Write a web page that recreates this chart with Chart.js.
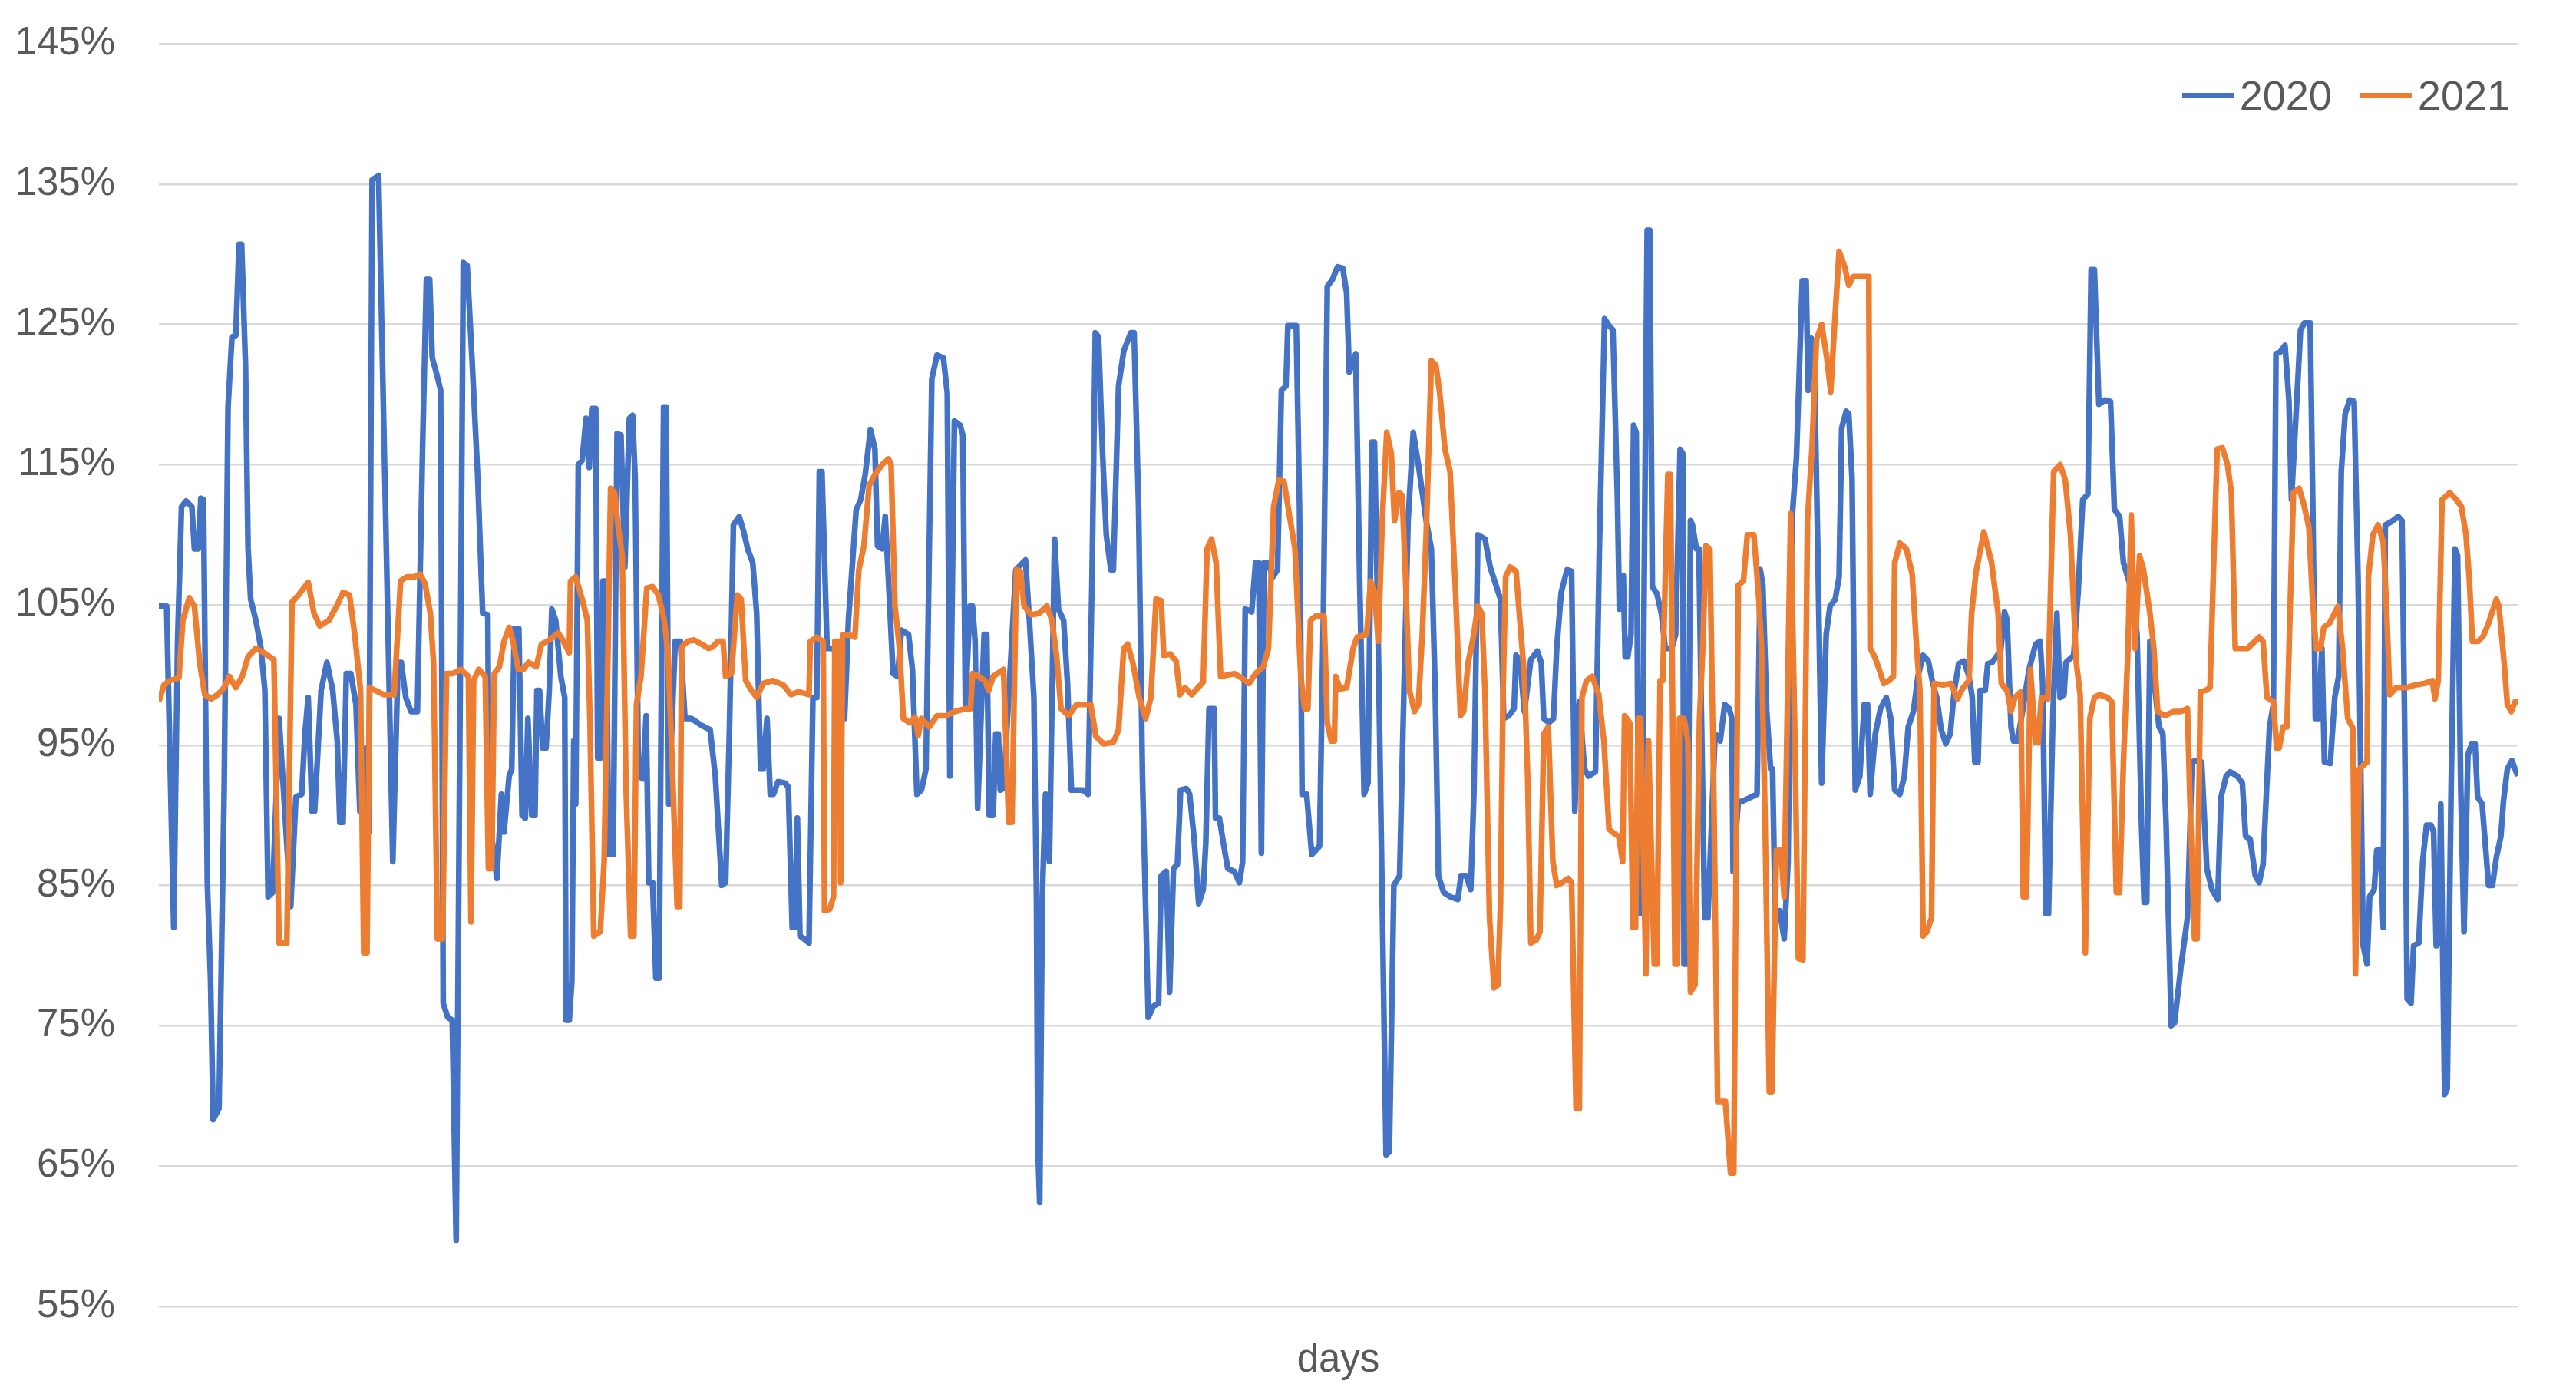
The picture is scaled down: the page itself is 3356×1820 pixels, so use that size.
<!DOCTYPE html>
<html>
<head>
<meta charset="utf-8">
<title>2020 vs 2021</title>
<script src="https://cdn.jsdelivr.net/npm/chart.js@4.4.1/dist/chart.umd.min.js"></script>
<style>
  html, body { margin: 0; padding: 0; background: #fff; }
  #wrap { position: relative; width: 3356px; height: 1820px; }
  #chart { display: block; }
  #legend {
    position: absolute; top: 93px; right: 86px;
    display: flex; align-items: center;
    font-family: 'Liberation Sans', Arial, sans-serif; font-size: 54px; color: #595959;
  }
  .legend-item { display: flex; align-items: center; margin-left: 37px; }
  .legend-line { width: 67px; height: 7px; margin-right: 8px; }
</style>
</head>
<body>
<div id="wrap">
  <canvas id="chart" width="3356" height="1820"></canvas>
  <div id="legend"></div>
</div>
<script>
// [day, ratio %], one entry per visible vertex
const points2020 = [
  [0,104.9],[1.2,104.9],[2.3,82.0],[2.9,102.4],[3.5,112.0],[4.2,112.4],[5.1,112.0],[5.5,109.0],[6.1,109.0],[6.5,112.6],
  [6.9,112.5],[7.5,85.2],[8.0,78.2],[8.4,68.3],[9.3,69.1],[10.1,91.8],[10.7,119.1],[11.3,124.1],[11.9,124.2],[12.4,130.7],
  [12.8,130.7],[13.4,122.1],[13.8,109.0],[14.2,105.4],[15.0,103.9],[15.8,101.9],[16.4,98.9],[16.9,84.2],[17.6,84.5],[18.6,96.9],
  [20.4,83.5],[21.2,91.3],[22.1,91.5],[22.6,95.8],[23.1,98.4],[23.7,90.3],[24.1,90.3],[25.1,98.9],[26.0,100.9],[26.9,98.9],
  [27.6,95.3],[28.0,89.5],[28.5,89.5],[29.0,100.1],[29.7,100.1],[30.5,97.9],[31.1,90.3],[32.1,94.8],[32.5,88.8],[33.0,135.3],
  [34.0,135.6],[36.2,86.7],[37.0,100.9],[37.5,100.9],[38.2,98.4],[39.0,97.4],[40.0,97.4],[40.8,116.1],[41.4,128.2],[41.9,128.2],
  [42.3,122.6],[42.9,121.6],[43.6,120.3],[44.0,76.6],[44.7,75.6],[45.4,75.4],[46.0,59.7],[47.1,129.4],[47.7,129.2],[48.5,122.1],
  [49.3,114.5],[50.1,104.4],[50.9,104.3],[51.1,90.0],[52.3,85.5],[53.0,91.5],[53.4,88.8],[54.2,92.8],[54.6,93.3],[55.0,103.3],
  [55.7,103.3],[56.2,90.0],[56.7,89.8],[57.1,96.9],[57.7,90.0],[58.2,90.0],[58.5,98.9],[58.9,98.9],[59.4,94.8],[59.9,94.8],
  [60.4,98.9],[60.8,104.7],[61.4,103.9],[62.2,99.9],[62.8,98.4],[63.0,75.4],[63.5,75.4],[63.9,78.2],[64.2,95.3],[64.5,90.8],
  [64.9,115.0],[65.5,115.3],[66.1,118.3],[66.6,114.8],[67.0,119.0],[67.6,119.0],[67.9,94.1],[68.4,94.1],[68.7,106.7],[69.2,106.7],
  [69.6,87.2],[70.3,87.2],[70.9,117.2],[71.5,117.1],[72.1,107.7],[72.8,118.3],[73.3,118.5],[73.7,114.0],[74.2,92.8],[74.9,92.6],
  [75.4,97.1],[75.8,85.2],[76.4,85.2],[76.9,78.4],[77.4,78.4],[78.1,119.1],[78.5,119.1],[78.9,90.8],[79.9,102.4],[80.7,102.4],
  [81.4,96.9],[82.4,96.9],[84.0,96.4],[85.3,96.1],[86.1,92.8],[87.1,85.0],[87.7,85.2],[88.3,96.3],[88.9,110.7],[89.8,111.3],
  [90.5,110.2],[91.1,109.0],[91.9,108.0],[92.5,104.4],[93.1,93.3],[93.5,93.3],[94.1,96.9],[94.6,91.5],[95.1,91.5],[95.8,92.4],
  [96.9,92.3],[97.4,92.0],[98.0,82.0],[98.4,82.0],[98.8,89.8],[99.2,81.4],[99.8,81.2],[100.6,80.9],[101.2,98.4],[101.8,98.4],
  [102.2,114.5],[102.6,114.5],[103.4,101.9],[104.5,101.9],[106.1,96.9],[106.7,103.9],[107.9,111.8],[108.6,112.5],[109.3,114.3],[110.1,117.5],
  [110.8,116.1],[111.2,109.2],[111.9,109.0],[112.4,111.3],[113.1,104.9],[113.6,100.1],[114.3,99.9],[114.9,103.2],[116.0,102.9],[116.6,100.4],
  [117.3,91.5],[118.0,91.8],[118.7,93.3],[119.6,121.1],[120.4,122.8],[121.4,122.6],[122.0,120.1],[122.4,92.8],[123.1,118.1],[124.0,117.8],
  [124.4,117.1],[124.8,97.9],[125.5,104.9],[125.9,104.9],[126.3,102.4],[126.7,90.5],[127.7,102.9],[128.1,102.9],[128.5,90.0],[129.1,90.0],
  [129.5,95.8],[129.9,95.8],[130.2,91.8],[130.7,91.9],[132.6,107.5],[134.1,108.2],[134.7,103.9],[135.4,98.4],[135.8,84.2],[136.0,66.5],
  [136.3,62.4],[136.7,84.2],[137.2,91.5],[137.8,86.7],[138.6,109.7],[139.2,104.7],[140.0,103.9],[140.6,99.4],[141.2,91.8],[143.0,91.8],
  [143.8,91.5],[144.4,107.0],[144.9,124.4],[145.4,124.1],[146.0,116.1],[146.6,110.0],[147.3,107.5],[147.7,107.5],[148.5,120.6],[149.3,123.1],
  [150.4,124.4],[150.9,124.4],[151.6,112.0],[152.2,92.8],[153.1,75.6],[153.9,76.4],[154.7,76.6],[155.1,85.7],[155.9,86.0],[156.4,77.4],
  [157.0,86.2],[157.6,86.5],[158.1,91.8],[159.0,91.9],[159.5,91.5],[160.2,88.3],[160.9,83.7],[161.6,84.7],[162.0,88.0],[162.5,97.6],
  [163.3,97.6],[163.5,89.8],[164.1,89.8],[164.8,87.8],[165.4,86.2],[166.4,86.0],[167.2,85.2],[167.7,86.7],[168.1,104.7],[169.1,104.5],
  [169.7,108.0],[170.2,108.0],[170.6,87.3],[171.0,108.0],[171.6,108.0],[172.4,107.0],[173.1,107.5],[173.7,120.3],[174.4,120.6],[174.7,124.9],
  [176.0,124.9],[176.5,112.0],[176.9,91.5],[177.6,91.5],[178.4,87.2],[179.0,87.5],[179.6,87.8],[180.2,104.4],[180.8,127.7],[181.6,128.2],
  [182.4,129.1],[183.2,129.0],[183.8,127.2],[184.2,121.6],[185.2,122.9],[185.8,107.0],[186.5,91.5],[187.1,92.3],[187.7,116.6],[188.1,116.6],
  [188.7,101.9],[189.9,65.8],[190.4,66.0],[191.1,85.0],[192.0,85.7],[192.5,95.8],[193.3,111.0],[194.1,117.3],[194.9,115.0],[196.1,111.0],
  [196.9,109.0],[197.5,98.9],[198.0,85.7],[198.8,84.5],[199.8,84.2],[201.0,84.0],[201.5,85.7],[202.3,85.7],[203.0,84.7],[203.5,91.8],
  [204.1,110.0],[205.2,109.7],[206.0,107.7],[206.9,106.4],[207.6,105.4],[208.1,96.9],[208.9,97.1],[209.7,97.6],[210.0,101.4],[210.6,101.1],
  [211.3,97.4],[212.3,101.1],[213.3,101.7],[213.9,100.9],[214.3,96.9],[215.1,96.6],[215.8,96.9],[216.3,101.9],[217.0,105.9],[217.9,107.5],
  [218.6,107.4],[219.1,90.3],[219.8,98.1],[220.6,93.3],[221.2,92.8],[222.3,93.1],[222.9,109.0],[223.7,125.4],[224.4,124.9],[225.0,124.6],
  [225.7,112.5],[226.0,104.7],[226.6,107.1],[226.9,101.3],[227.3,101.3],[227.8,102.9],[228.2,117.8],[228.6,117.3],[229.0,83.0],[229.4,83.0],
  [230.3,131.7],[230.7,131.7],[231.1,106.3],[231.8,105.8],[232.5,104.4],[233.1,101.9],[234.1,101.9],[234.7,102.9],[235.4,116.1],[235.8,115.8],
  [236.0,79.4],[236.5,79.4],[237.0,111.0],[237.3,110.7],[237.9,109.0],[238.3,109.0],[238.7,96.9],[239.2,82.7],[239.7,82.7],[240.8,95.8],
  [241.6,95.3],[242.3,97.9],[243.0,97.6],[243.4,96.9],[243.6,86.0],[244.4,91.0],[245.0,91.0],[246.4,91.3],[247.3,91.5],[247.8,107.5],
  [248.2,106.4],[248.8,97.4],[249.4,93.3],[249.7,93.3],[250.1,83.2],[250.8,83.2],[251.5,81.2],[252.1,86.7],[252.7,111.0],[253.4,115.5],
  [254.3,128.1],[254.9,128.1],[255.2,120.3],[255.7,124.0],[256.2,121.1],[256.7,109.0],[257.3,92.3],[258.0,102.9],[258.6,104.9],[259.4,105.4],
  [260.0,107.0],[260.4,117.6],[261.1,118.8],[261.5,118.6],[262.0,114.0],[262.5,91.8],[263.2,92.8],[263.9,97.9],[264.4,97.9],[264.8,91.5],
  [265.6,95.8],[266.4,97.6],[267.3,98.4],[268.0,96.9],[268.6,91.8],[269.4,91.5],[270.1,92.8],[270.7,96.3],[271.5,97.4],[272.2,99.9],
  [273.0,101.4],[273.8,101.0],[274.5,99.4],[275.1,98.4],[275.8,96.1],[276.5,95.1],[277.2,95.8],[277.8,98.8],[278.5,100.8],[279.3,101.0],
  [280.1,99.9],[280.6,98.4],[281.0,93.8],[281.5,93.8],[281.8,98.9],[282.6,98.9],[283.0,100.8],[283.7,100.9],[284.3,101.3],[285.0,101.7],
  [285.6,104.5],[286.0,103.9],[286.6,96.3],[287.0,95.3],[287.6,95.3],[288.2,96.9],[289.4,100.4],[290.4,102.2],[291.1,102.4],[291.5,99.4],
  [292.0,83.0],[292.4,83.0],[293.1,97.4],[293.7,104.4],[294.2,98.4],[294.8,98.6],[295.1,100.9],[296.3,101.4],[297.0,106.0],[297.7,112.5],
  [298.5,112.9],[299.0,128.9],[299.5,128.9],[300.2,119.3],[301.1,119.6],[302.0,119.5],[302.6,111.8],[303.4,111.3],[304.0,108.0],[305.3,106.0],
  [306.1,102.9],[306.8,89.3],[307.2,83.8],[307.6,83.8],[308.1,102.4],[309.5,96.3],[310.1,95.8],[310.6,89.3],[311.4,75.0],[311.9,75.2],
  [312.9,79.2],[313.9,82.7],[314.6,93.8],[315.2,93.9],[316.1,93.8],[316.9,86.2],[317.7,84.7],[318.6,84.0],[319.1,91.3],[319.9,92.8],
  [320.5,93.1],[321.6,92.8],[322.4,92.3],[322.9,88.5],[323.6,88.3],[324.4,85.7],[325.0,85.2],[325.6,86.5],[326.6,96.3],[327.2,97.9],
  [327.6,122.9],[328.2,123.0],[329.0,123.5],[329.6,119.6],[330.0,112.5],[331.4,124.6],[332.0,125.1],[332.9,125.1],[333.3,112.0],[333.7,96.9],
  [334.2,96.9],[334.7,101.9],[335.1,93.8],[336.0,93.7],[336.7,98.4],[337.3,99.9],[337.7,114.5],[338.3,118.6],[339.0,119.6],[339.7,119.5],
  [340.3,107.0],[340.7,93.8],[341.1,80.7],[341.7,79.4],[342.1,84.2],[342.8,84.7],[343.2,87.5],[343.8,87.5],[344.2,82.0],[344.5,110.7],
  [345.4,110.9],[346.5,111.3],[347.1,111.0],[347.5,96.9],[347.9,76.9],[348.5,76.6],[348.9,80.7],[349.7,80.9],[350.3,86.7],[350.9,89.3],
  [351.6,89.3],[352.0,88.8],[352.4,80.7],[352.8,80.9],[353.1,90.8],[353.7,70.1],[354.1,70.5],[354.7,91.8],[355.3,109.0],[355.7,108.5],
  [356.2,91.8],[356.7,81.7],[357.3,94.3],[357.9,95.1],[358.4,95.1],[358.8,91.3],[359.5,90.8],[360.5,85.0],[361.1,85.0],[361.7,87.0],
  [362.4,88.5],[362.8,91.0],[363.4,93.3],[364.1,93.9],[364.6,93.3],[365.0,92.8]
];

const points2021 = [
  [0,98.1],[0.8,99.3],[1.7,99.6],[3.1,99.8],[3.7,103.9],[4.7,105.5],[5.5,104.9],[6.3,100.9],[7.1,98.6],[8.1,98.3],
  [9.1,98.6],[10.1,99.1],[10.9,99.9],[11.9,99.1],[12.9,99.9],[13.8,101.3],[15.0,101.9],[16.2,101.6],[17.8,101.1],[18.6,80.9],
  [19.8,80.9],[20.6,105.2],[21.6,105.7],[23.1,106.6],[24.0,104.4],[24.9,103.5],[26.3,103.9],[27.5,104.9],[28.5,105.9],[29.5,105.7],
  [30.3,102.9],[31.2,98.9],[31.7,80.2],[32.2,80.2],[32.6,99.1],[34.8,98.6],[36.4,98.6],[37.4,106.7],[38.4,107.0],[39.6,107.0],
  [40.4,107.2],[41.2,106.5],[42.0,104.4],[42.5,100.9],[43.1,81.2],[43.9,81.2],[44.5,100.1],[45.5,100.1],[46.7,100.4],[47.9,99.9],
  [48.3,82.4],[48.7,99.6],[49.5,100.4],[50.5,99.9],[51.0,86.2],[51.5,86.2],[51.9,100.1],[52.7,100.6],[53.4,102.4],[54.2,103.4],
  [54.8,102.4],[55.6,100.4],[56.4,100.4],[57.2,100.9],[58.4,100.6],[59.2,102.2],[60.4,102.5],[61.8,103.0],[62.6,102.4],[63.5,101.6],
  [63.7,106.7],[64.5,107.0],[65.5,105.4],[66.3,103.9],[66.7,96.9],[67.3,81.4],[68.3,81.7],[68.9,86.7],[69.5,101.9],[69.9,113.3],
  [70.5,113.0],[71.1,110.5],[71.7,108.5],[72.3,91.8],[73.0,81.4],[73.5,81.4],[73.9,97.9],[74.6,99.9],[75.5,106.2],[76.4,106.3],
  [77.3,105.7],[78.2,103.9],[78.8,101.4],[79.5,92.8],[80.2,83.5],[80.6,83.5],[80.9,102.0],[81.8,102.4],[82.8,102.5],[84.0,102.2],
  [85.0,101.9],[85.7,102.0],[86.5,102.4],[87.3,102.4],[87.7,99.9],[88.6,100.1],[89.5,105.7],[90.1,105.4],[90.8,99.6],[91.7,98.9],
  [92.5,98.4],[93.5,99.4],[95.0,99.6],[96.6,99.3],[97.8,98.6],[99.0,98.8],[100.6,98.6],[100.8,102.4],[101.8,102.7],[102.8,102.4],
  [103.0,83.2],[103.8,83.3],[104.4,84.2],[104.6,102.4],[105.3,102.4],[105.5,85.2],[105.8,102.9],[107.3,102.8],[107.7,102.7],[108.3,107.5],
  [109.1,109.2],[109.9,113.5],[110.8,114.3],[111.9,115.0],[112.9,115.4],[113.3,115.0],[113.9,104.9],[114.6,101.9],[115.2,96.9],[116.2,96.6],
  [117.0,97.0],[117.5,95.7],[118.0,96.9],[119.2,96.3],[120.4,97.1],[121.8,97.1],[123.2,97.4],[124.8,97.6],[125.6,97.6],[125.9,100.1],
  [126.9,99.9],[127.8,99.6],[128.4,98.9],[129.1,99.9],[130.7,100.4],[131.5,89.5],[132.0,89.5],[132.7,107.5],[133.3,107.4],[133.9,104.9],
  [135.0,104.3],[136.2,104.4],[137.4,104.9],[138.2,103.9],[138.9,101.4],[139.6,97.6],[140.8,97.1],[142.0,97.9],[144.2,97.9],[145.0,95.6],
  [146.2,95.1],[147.7,95.2],[148.5,96.1],[149.3,101.9],[149.9,102.2],[150.7,100.9],[151.7,98.4],[152.7,96.9],[153.5,98.4],[154.3,105.4],
  [155.1,105.3],[155.5,101.4],[156.5,101.5],[157.4,101.0],[158.0,98.6],[158.8,99.1],[159.8,98.6],[160.8,99.1],[161.6,99.5],[162.2,109.0],
  [162.9,109.7],[163.6,108.0],[164.3,99.9],[165.4,100.0],[166.4,100.1],[167.5,99.8],[168.7,99.4],[169.7,100.1],[170.9,100.6],[171.7,101.9],
  [172.5,112.0],[173.3,113.9],[174.1,113.8],[174.9,111.5],[175.8,109.0],[176.7,99.9],[177.3,97.6],[177.8,97.6],[178.2,103.9],[179.0,104.2],
  [180.3,104.2],[180.8,96.6],[181.4,95.3],[181.9,95.3],[182.1,99.9],[182.8,99.0],[183.8,99.1],[184.8,101.9],[185.4,102.7],[186.9,102.9],
  [187.5,106.7],[188.1,105.9],[188.7,102.4],[189.3,111.0],[190.0,117.3],[190.7,115.8],[191.2,111.0],[191.9,113.0],[192.4,112.8],[192.9,107.0],
  [193.5,98.9],[194.3,97.4],[194.9,97.9],[195.5,102.9],[196.1,110.0],[196.9,122.4],[197.6,122.1],[198.2,120.1],[199.0,116.1],[199.8,114.5],
  [200.6,106.4],[201.4,97.1],[201.9,97.4],[202.6,100.9],[203.4,102.7],[204.1,104.9],[204.7,104.4],[205.2,98.9],[205.9,82.7],[206.6,77.7],
  [207.2,77.9],[207.6,83.7],[208.0,98.9],[208.4,107.0],[209.1,107.7],[210.0,107.4],[210.6,103.9],[211.3,99.9],[211.8,92.8],[212.3,80.9],
  [213.1,81.1],[213.7,81.7],[214.3,95.8],[215.0,96.3],[215.7,86.7],[216.3,85.0],[217.1,85.2],[218.1,85.5],[218.6,85.2],[219.3,69.1],
  [219.8,69.1],[220.2,98.4],[220.9,99.6],[221.8,99.9],[222.8,98.6],[223.6,95.3],[224.4,89.0],[225.2,88.7],[225.9,88.5],[226.5,86.7],
  [226.8,97.1],[227.6,96.6],[228.1,82.0],[228.5,82.0],[228.9,96.9],[229.3,96.9],[230.1,78.7],[230.5,95.3],[231.4,79.4],[231.8,79.4],
  [232.3,99.6],[232.7,99.6],[233.5,114.3],[233.9,114.3],[234.6,79.4],[235.0,79.4],[235.3,96.9],[236.0,96.9],[236.6,95.3],[237.0,77.4],
  [237.7,77.9],[238.4,96.9],[238.9,101.9],[239.4,109.2],[240.0,109.0],[240.6,91.8],[241.2,69.6],[242.4,69.6],[243.2,64.5],[243.7,64.5],
  [244.4,106.4],[245.2,106.7],[245.8,110.0],[246.8,110.0],[247.5,105.9],[248.0,101.9],[248.5,90.8],[249.2,70.3],[249.6,70.3],[250.3,87.5],
  [251.0,87.5],[251.5,84.2],[252.5,111.5],[253.1,96.9],[253.7,79.8],[254.4,79.7],[255.1,111.0],[255.8,116.1],[256.5,123.9],[257.3,125.0],
  [258.1,122.6],[258.7,120.2],[259.3,125.0],[260.0,130.2],[260.8,129.2],[261.5,127.8],[262.2,128.4],[263.4,128.4],[264.6,128.4],[264.8,101.9],
  [265.5,101.3],[266.2,100.4],[266.9,99.4],[267.7,99.6],[268.4,99.9],[268.6,108.0],[269.4,109.4],[270.4,109.0],[271.3,107.2],[272.0,101.9],
  [272.5,98.9],[273.0,81.4],[273.6,81.7],[274.3,82.7],[274.7,99.4],[276.1,99.3],[277.3,99.4],[278.3,98.3],[279.2,99.1],[280.1,99.6],
  [280.5,104.4],[281.2,107.4],[282.4,110.2],[283.6,108.0],[284.6,104.4],[285.1,99.4],[285.6,99.1],[286.0,98.9],[286.6,97.4],[287.2,98.4],
  [288.1,98.8],[288.5,84.2],[289.0,84.2],[289.6,100.4],[290.4,95.2],[290.8,95.2],[291.3,98.4],[292.3,98.3],[293.2,114.5],[294.2,115.0],
  [295.0,113.9],[295.8,110.0],[296.7,100.9],[297.3,98.6],[298.1,80.2],[298.8,96.9],[299.5,98.4],[300.3,98.6],[301.5,98.4],[302.2,98.1],
  [302.9,84.5],[303.4,84.5],[304.0,93.8],[304.7,101.9],[305.2,111.4],[305.8,101.9],[306.5,108.5],[307.1,107.5],[308.1,104.4],[308.7,101.9],
  [309.3,97.4],[310.4,97.1],[311.8,97.4],[312.9,97.4],[313.9,97.6],[314.3,91.0],[315.0,81.2],[315.4,81.2],[315.9,98.8],[316.7,98.9],
  [317.4,99.1],[317.9,107.0],[318.5,116.1],[319.3,116.2],[320.1,115.0],[320.7,113.0],[321.3,101.9],[323.2,101.9],[325.0,102.7],[325.6,102.4],
  [326.2,98.4],[327.2,98.1],[327.7,94.8],[328.1,94.8],[328.7,96.3],[329.3,96.3],[329.8,104.9],[330.3,113.0],[331.2,113.3],[332.0,112.0],
  [332.7,110.5],[333.2,105.9],[333.8,101.9],[334.5,101.9],[335.0,103.4],[335.9,103.7],[337.2,104.9],[337.9,101.9],[338.7,96.9],[339.5,96.2],
  [339.9,78.7],[340.5,93.3],[341.7,93.8],[341.9,107.0],[342.6,110.0],[343.4,110.7],[344.2,109.5],[344.7,104.9],[345.2,98.6],[346.2,99.1],
  [347.8,99.1],[349.2,99.3],[350.6,99.4],[351.8,99.6],[352.2,98.3],[352.7,99.6],[353.3,112.5],[354.5,113.0],[355.5,112.5],[356.3,112.0],
  [357.0,110.0],[357.5,107.0],[358.0,102.4],[358.9,102.4],[359.7,102.8],[360.5,103.7],[361.7,105.4],[362.1,104.9],[362.9,100.9],[363.4,97.9],
  [364.0,97.4],[364.6,98.1],[365.0,98.1]
];

const seriesLabels = ['2020', '2021'];
const seriesColors = ['#4472C4', '#ED7D31'];
const yTicks = [55, 65, 75, 85, 95, 105, 115, 125, 135, 145];

const FONT = "'Liberation Sans', Arial, sans-serif";
const TEXT_COLOR = '#595959';

function toXY(points) {
  return points.map(([day, pct]) => ({ x: day, y: pct }));
}

function renderLegend(chart) {
  const container = document.getElementById('legend');
  container.innerHTML = '';
  chart.data.datasets.forEach((ds) => {
    const item = document.createElement('div');
    item.className = 'legend-item';
    const line = document.createElement('span');
    line.className = 'legend-line';
    line.style.background = ds.borderColor;
    const label = document.createElement('span');
    label.textContent = ds.label;
    item.appendChild(line);
    item.appendChild(label);
    container.appendChild(item);
  });
}

const ctx = document.getElementById('chart').getContext('2d');
const chart = new Chart(ctx, {
  type: 'line',
  data: {
    datasets: [
      {
        label: seriesLabels[0],
        data: toXY(points2020),
        borderColor: seriesColors[0],
        borderWidth: 7.5,
        pointRadius: 0,
        tension: 0,
        borderJoinStyle: 'round',
        order: 1,
      },
      {
        label: seriesLabels[1],
        data: toXY(points2021),
        borderColor: seriesColors[1],
        borderWidth: 7.5,
        pointRadius: 0,
        tension: 0,
        borderJoinStyle: 'round',
        order: 0,
      },
    ],
  },
  options: {
    responsive: false,
    animation: false,
    devicePixelRatio: 1,
    layout: { padding: { top: 57, right: 76, left: 0, bottom: 0 } },
    plugins: {
      legend: { display: false },
      tooltip: { enabled: false },
    },
    scales: {
      x: {
        type: 'linear',
        min: 0,
        max: 365,
        grid: { display: false },
        border: { display: false },
        ticks: { display: false },
        title: {
          display: true,
          text: 'days',
          color: TEXT_COLOR,
          font: { family: FONT, size: 51 },
          padding: { top: 33, bottom: 16 },
        },
      },
      y: {
        min: yTicks[0],
        max: yTicks[yTicks.length - 1],
        afterBuildTicks: (scale) => {
          scale.ticks = yTicks.map((v) => ({ value: v }));
        },
        afterFit: (scale) => {
          // fixed axis width; the label padding should not push the plot down
          scale.width = 207;
          scale.paddingTop = 0;
          scale.paddingBottom = 0;
        },
        grid: { color: '#D9D9D9', lineWidth: 2.5, drawTicks: false },
        border: { display: false },
        ticks: {
          padding: 57,
          color: TEXT_COLOR,
          font: { family: FONT, size: 51 },
          callback: (v) => v + '%',
        },
      },
    },
  },
});

renderLegend(chart);
</script>
</body>
</html>
